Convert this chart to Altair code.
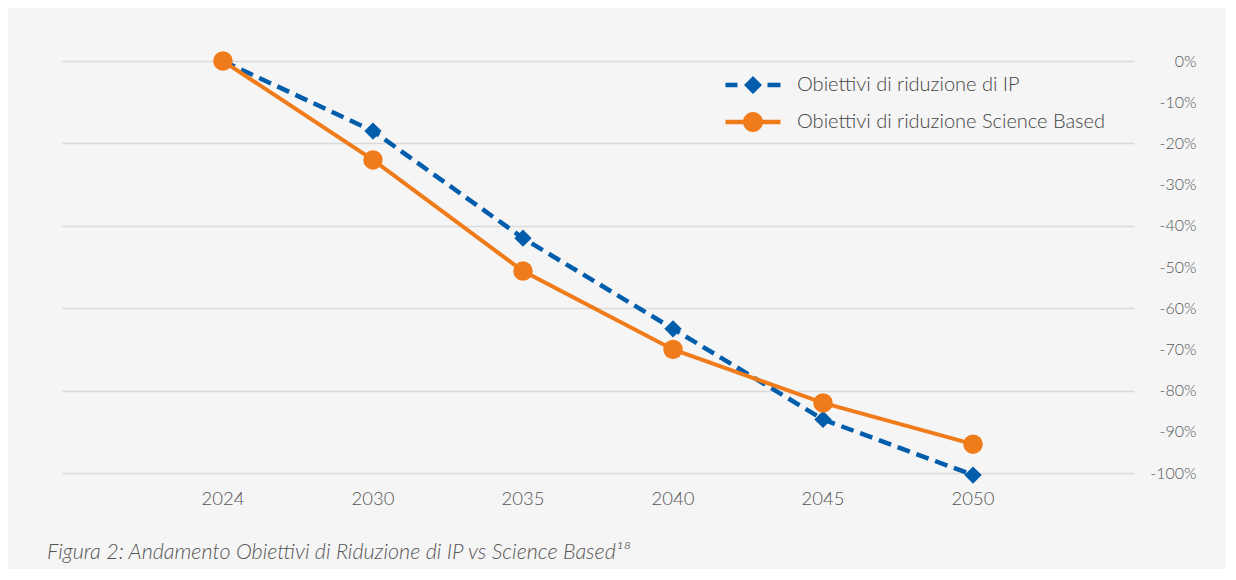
import altair as alt
import pandas as pd

years = ["2024", "2030", "2035", "2040", "2045", "2050"]
series_names = ["Obiettivi di riduzione di IP", "Obiettivi di riduzione Science Based"]
ip_values = [0, -17, -43, -65, -87, -100.5]
sb_values = [0, -24, -51, -70, -83, -93]
y_ticks = [0, -10, -20, -30, -40, -50, -60, -70, -80, -90, -100]
caption = "Figura 2: Andamento Obiettivi di Riduzione di IP vs Science Based¹⁸"

BLUE = "#005dac"
ORANGE = "#ef7b1a"
FONT = "Lato"
TEXT = "#555555"
WEIGHT = 300

rows = []
for yr, v in zip(years, ip_values):
    rows.append({"year": yr, "series": series_names[0], "value": v})
for yr, v in zip(years, sb_values):
    rows.append({"year": yr, "series": series_names[1], "value": v})
df = pd.DataFrame(rows)

x_enc = alt.X(
    "year:O",
    sort=years,
    bandPosition=0.5,
    scale=alt.Scale(type="band", paddingInner=0, paddingOuter=0.573),
    axis=alt.Axis(
        title=None, labelAngle=0, ticks=False, domain=False, grid=False,
        labelFont=FONT, labelFontSize=18.5, labelFontWeight=WEIGHT,
        labelColor=TEXT, labelPadding=16,
    ),
)
y_enc = alt.Y(
    "value:Q",
    scale=alt.Scale(domain=[-100, 0], nice=False, zero=False),
    axis=alt.Axis(
        title=None, orient="right", values=y_ticks, ticks=False, domain=False,
        labelExpr="datum.value + '%'", labelAlign="right", labelBaseline="middle",
        labelPadding=62, labelFont=FONT, labelFontSize=16, labelFontWeight=WEIGHT,
        labelColor=TEXT,
        grid=True, gridWidth=1.5,
        gridColor={"condition": {"test": "abs(datum.value) % 20 === 0", "value": "#d9d9d9"},
                   "value": "transparent"},
    ),
)

base = alt.Chart(df).encode(x=x_enc, y=y_enc)

ip_line = base.transform_filter(alt.datum.series == series_names[0]).mark_line(
    color=BLUE, strokeWidth=4.5, strokeDash=[13, 7], clip=False)
sb_line = base.transform_filter(alt.datum.series == series_names[1]).mark_line(
    color=ORANGE, strokeWidth=4, clip=False)
ip_pts = base.transform_filter(alt.datum.series == series_names[0]).mark_point(
    shape="diamond", filled=True, size=300, color=BLUE, opacity=1, clip=False)
sb_pts = base.transform_filter(alt.datum.series == series_names[1]).mark_point(
    shape="circle", filled=True, size=380, color=ORANGE, opacity=1, clip=False)

ip_path = ("M-2.75,-0.22H-1.55V0.22H-2.75Z M1.45,-0.22H2.75V0.22H1.45Z "
           "M0,-0.9L0.9,0L0,0.9L-0.9,0Z")
sb_path = ("M-2.75,-0.22H2.75V0.22H-2.75Z "
           "M-1,0A1,1,0,1,1,1,0A1,1,0,1,1,-1,0Z")

legend_layer = base.mark_point(filled=True, opacity=0).encode(
    color=alt.Color("series:N", scale=alt.Scale(domain=series_names, range=[BLUE, ORANGE]),
                    legend=alt.Legend(title=None)),
    shape=alt.Shape("series:N", scale=alt.Scale(domain=series_names, range=[ip_path, sb_path]),
                    legend=alt.Legend(title=None)),
)

chart = alt.layer(ip_line, sb_line, ip_pts, sb_pts, legend_layer).properties(
    width=1072,
    height=412,
    padding={"left": 39, "top": 43, "right": 30, "bottom": 6},
    title=alt.TitleParams(
        caption, orient="bottom", anchor="start", dx=-15, offset=34,
        font=FONT, fontSize=21.5, fontStyle="italic", fontWeight=WEIGHT, color=TEXT,
    ),
).configure(background="#f5f5f5").configure_view(stroke=None).configure_legend(
    orient="none", legendX=681, legendY=14, padding=0,
    symbolSize=400, symbolStrokeWidth=0, symbolOpacity=1,
    labelFont=FONT, labelFontSize=20, labelFontWeight=WEIGHT,
    labelColor="#444444", labelLimit=600,
    labelOffset=34, rowPadding=17,
)

chart.save("out.html", embed_options={"renderer": "svg", "actions": False})
